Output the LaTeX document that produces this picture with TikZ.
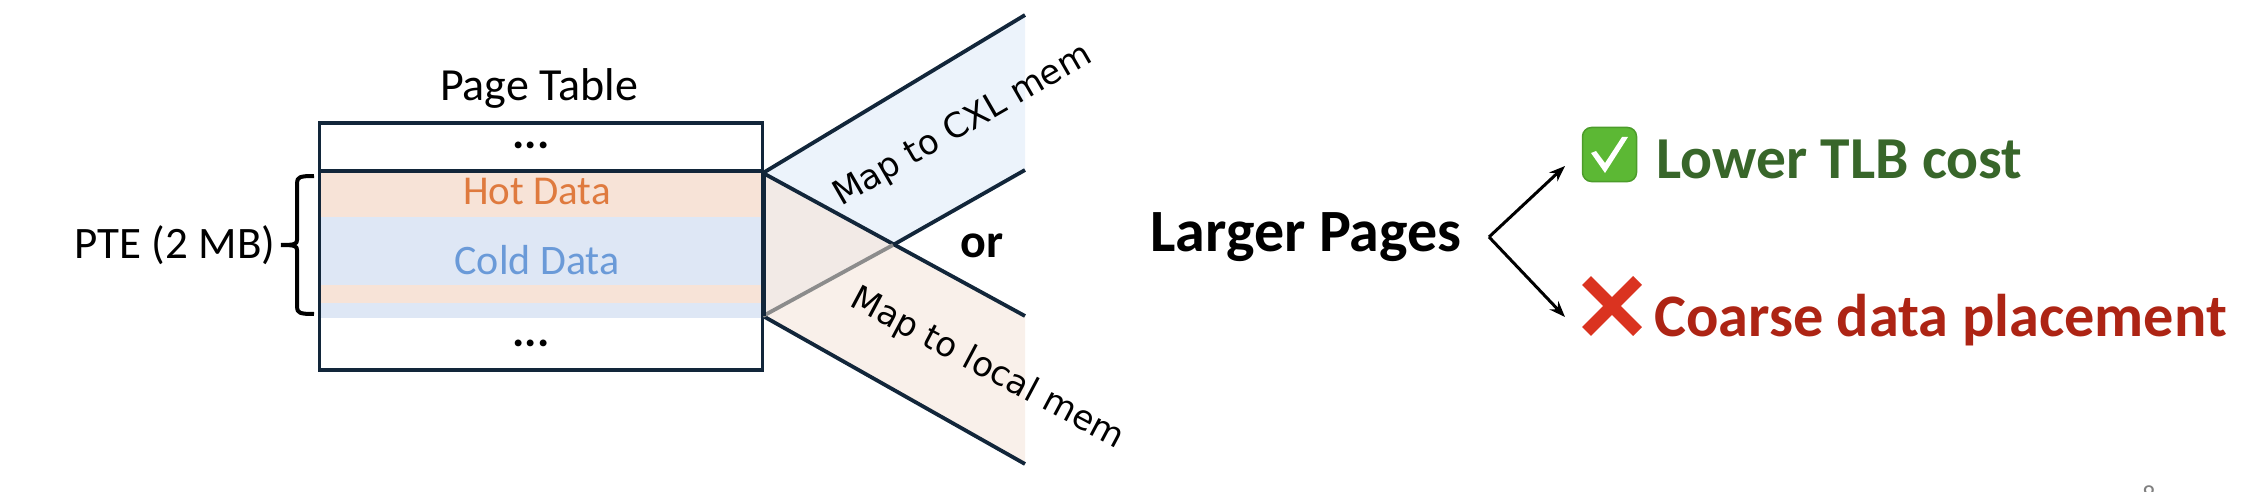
\documentclass[tikz,border=0pt]{standalone}
\usepackage{fontspec}
\setmainfont{Carlito}
\newfontfamily\mapfont{DejaVu Sans}
\usetikzlibrary{positioning, arrows.meta}
\definecolor{navy}{HTML}{12263A}
\definecolor{hotband}{HTML}{F7E3D7}
\definecolor{coldband}{HTML}{DEE7F5}
\definecolor{hottext}{HTML}{DF7A3E}
\definecolor{coldtext}{HTML}{6A9AD8}
\definecolor{cxlfill}{HTML}{ECF3FB}
\definecolor{localfill}{HTML}{F9F0EA}
\definecolor{overlapfill}{HTML}{F2EAE6}
\definecolor{goodtext}{HTML}{38662A}
\definecolor{badtext}{HTML}{AD2414}
\definecolor{tickgreen}{HTML}{5CB834}
\definecolor{tickedge}{HTML}{4C9C2A}
\definecolor{crossred}{HTML}{DA3320}
\tikzset{
  label46/.style={anchor=base,inner sep=0pt,font=\fontsize{46}{54}\selectfont},
  bold60/.style={anchor=base,inner sep=0pt,font=\bfseries\fontsize{60}{70}\selectfont},
  band/.style={inner sep=0pt,minimum width=441,outer sep=0pt},
  edge/.style={draw=navy,line width=3.8},
  mapnode/.style={inner sep=0pt,font=\mapfont\fontsize{34}{40}\selectfont},
  fork/.style={line width=3,-{Stealth[length=16,width=12]}},
}
\begin{document}
\begin{tikzpicture}[x=1pt,y=-1pt]
    \useasboundingbox (0,0) rectangle (2256,492);
    % Define points
    \coordinate (cxltop) at (1025,15);
    \coordinate (cxlbot) at (1025,170);
    \coordinate (loctop) at (1025,316);
    \coordinate (locbot) at (1025,464);
    \coordinate (hi) at (763,173);
    \coordinate (lo) at (763,316);
    \coordinate (cross) at (893,245);
    \coordinate (rowleft) at (319.5,171);
    \coordinate (rowright) at (762.5,171);
    % Fill the two fans
    \fill[cxlfill] (hi) -- (cxltop) -- (cxlbot) -- (cross) -- cycle;
    \fill[localfill] (lo) -- (cross) -- (loctop) -- (locbot) -- cycle;
    \fill[overlapfill] (hi) -- (cross) -- (lo) -- cycle;
    % Define nodes
    \node[band,fill=hotband,minimum height=46] (hot1) at (540,194) {};
    \node[band,fill=coldband,minimum height=68] (cold1) at (540,251) {};
    \node[band,fill=hotband,minimum height=18] (hot2) at (540,294) {};
    \node[band,fill=coldband,minimum height=15] (cold2) at (540,310.5) {};
    \node[draw=navy,line width=3.8,minimum width=443,minimum height=247,inner sep=0pt] (table) at (541,246.5) {};
    \node[label46] (title) at (539,101) {Page Table};
    \node[label46,font=\bfseries\fontsize{46}{54}\selectfont] (dots1) at (531,149) {...};
    \node[label46,font=\bfseries\fontsize{46}{54}\selectfont] (dots2) at (531,346) {...};
    \node[label46,font=\fontsize{41}{48}\selectfont,text=hottext] (hot) at (537,204) {Hot Data};
    \node[label46,font=\fontsize{42}{50}\selectfont,text=coldtext] (cold) at (537,274) {Cold Data};
    \node[label46,font=\fontsize{45}{54}\selectfont] (pte) at (175,258) {PTE (2 MB)};
    \node[mapnode,rotate=30] (mapcxl) at (963,126) {Map to CXL mem};
    \node[mapnode,rotate=-28] (maplocal) at (987,369) {Map to local mem};
    \node[bold60,font=\bfseries\fontsize{48}{58}\selectfont] (or) at (982,257) {or};
    \node[bold60] (larger) at (1306,251) {Larger Pages};
    \node[bold60,font=\bfseries\fontsize{59.5}{70}\selectfont,text=goodtext,anchor=base west] (lower) at (1656,178) {Lower TLB cost};
    \node[bold60,font=\bfseries\fontsize{60.3}{70}\selectfont,text=badtext,anchor=base west] (coarse) at (1654,336) {Coarse data placement};
    \node[label46,font=\fontsize{26}{30}\selectfont,text=gray] (pageno) at (2149,503) {8};
    \node[fill=tickgreen,draw=tickedge,line width=1.5,rounded corners=9,minimum width=54,minimum height=54,inner sep=0pt] (tick) at (1609.5,154.5) {};
    % Tick and cross
    \fill[white] (1591,153) -- (1596,151) -- (1605,163) -- (1622,137) -- (1628,137) -- (1605,173) -- cycle;
    \coordinate (xa) at (1586.5,280.5);
    \coordinate (xb) at (1637.5,331.5);
    \coordinate (xc) at (1637.5,280.5);
    \coordinate (xd) at (1586.5,331.5);
    \draw[line width=12.5,crossred] (xa) -- (xb) (xc) -- (xd);
    % Draw edges
    \draw[edge] (hi) -- (cxltop);
    \draw[edge] (cross) -- (cxlbot);
    \draw[edge] (hi) -- (loctop);
    \draw[edge] (lo) -- (locbot);
    \draw[line width=3.8,draw=gray!90] (lo) -- (cross);
    \draw[edge] (rowleft) -- (rowright);
    \draw[edge,line width=5] (hi) -- (lo);
    % Brace
    \draw[line width=4,line join=round] (314,176) .. controls (300,176) and (297,177) .. (297,183) -- (297,240) .. controls (297,244) and (295,245) .. (281,245);
    \draw[line width=4,line join=round] (314,314) .. controls (300,314) and (297,313) .. (297,307) -- (297,250) .. controls (297,246) and (295,245) .. (281,245);
    % Arrows
    \coordinate (split) at (1489,237);
    \coordinate (upend) at (1565,166);
    \coordinate (downend) at (1565,317);
    \draw[fork] (split) -- (upend);
    \draw[fork] (split) -- (downend);
\end{tikzpicture}
\end{document}
